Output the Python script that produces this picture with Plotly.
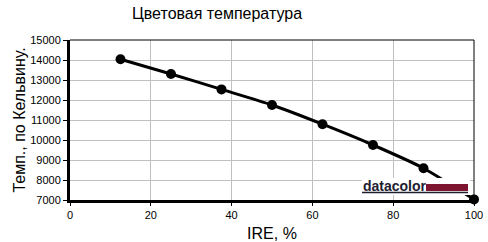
import plotly.graph_objects as go

ire = [12.5, 25, 37.5, 50, 62.5, 75, 87.5, 100]
temp_k = [14040, 13300, 12530, 11750, 10790, 9750, 8590, 7030]

x_ticks = [0, 20, 40, 60, 80, 100]
y_ticks = [7000, 8000, 9000, 10000, 11000, 12000, 13000, 14000, 15000]

title_text = "Цветовая температура"
x_title = "IRE, %"
y_title = "Темп., по Кельвину."
logo_text = "datacolor"

fig = go.Figure()
fig.add_trace(go.Scatter(
    x=ire, y=temp_k, mode="lines+markers",
    line=dict(color="black", width=3, shape="spline", smoothing=0.6),
    marker=dict(color="black", size=10),
    cliponaxis=False, showlegend=False,
))

font_family = "Liberation Sans, Arial, sans-serif"
fig.update_layout(
    width=488, height=242,
    margin=dict(l=70, r=14, t=40, b=42, autoexpand=False),
    paper_bgcolor="white", plot_bgcolor="white",
    font=dict(family=font_family, color="black", size=11),
    title=dict(text=title_text, x=217/488, xanchor="center", y=1 - 13/242, yanchor="middle",
               font=dict(size=16, color="black", family=font_family)),
)
fig.update_xaxes(
    range=[0, 100], tickvals=x_ticks, ticktext=[str(v) for v in x_ticks],
    showgrid=True, gridcolor="#c0c0c0", gridwidth=1,
    showline=True, linecolor="black", linewidth=3,
    ticks="outside", ticklen=3, tickcolor="black", tickfont=dict(size=11),
    zeroline=False, automargin=False,
    title=dict(text=x_title, font=dict(size=16), standoff=9),
)
fig.update_yaxes(
    range=[7000, 15000], tickvals=y_ticks, ticktext=[str(v) for v in y_ticks],
    showgrid=True, gridcolor="#c0c0c0", gridwidth=1,
    showline=True, linecolor="black", linewidth=3,
    ticks="outside", ticklen=4, tickcolor="black", tickfont=dict(size=11),
    zeroline=False, automargin=False,
    title=dict(text=y_title, font=dict(size=16), standoff=1),
)

# top and right thin borders
fig.add_shape(type="line", xref="paper", yref="paper", x0=0, x1=1, y0=1, y1=1,
              line=dict(color="black", width=1))
fig.add_shape(type="line", xref="paper", yref="paper", x0=1, x1=1, y0=0, y1=1,
              line=dict(color="black", width=1))

# logo
def px(xp):
    return (xp - 70) / 404
def py(yp):
    return (200 - yp) / 160

fig.add_shape(type="rect", xref="paper", yref="paper", x0=px(362), x1=px(470), y0=py(195), y1=py(178),
              fillcolor="white", line=dict(width=0), layer="above")
fig.add_shape(type="rect", xref="paper", yref="paper", x0=px(426), x1=px(468), y0=py(191), y1=py(184),
              fillcolor="#7d1530", line=dict(width=0), layer="above")
fig.add_shape(type="line", xref="paper", yref="paper", x0=px(362), x1=px(468), y0=py(192.5), y1=py(192.5),
              line=dict(color="#1e2030", width=1.5), layer="above")
fig.add_annotation(text="<b>" + logo_text + "</b>", xref="paper", yref="paper",
                   x=px(361), y=py(185.5), xanchor="left", yanchor="middle", showarrow=False,
                   font=dict(size=14, color="#1e2030", family=font_family))

fig.write_html("out.html")
